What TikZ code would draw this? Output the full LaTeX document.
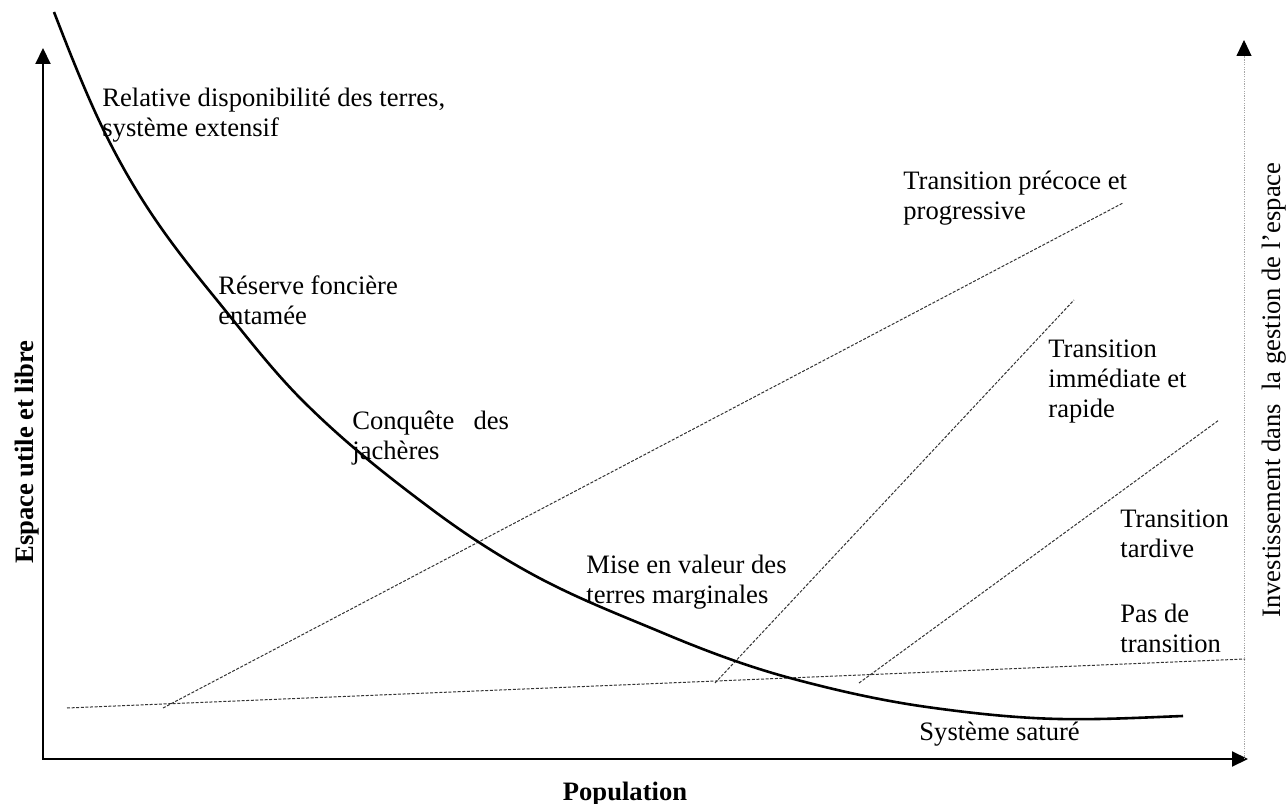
\documentclass[tikz,border=0pt]{standalone}
\usepackage{fontspec}
\setmainfont{Liberation Serif}
\usetikzlibrary{arrows.meta}
\tikzset{
  >={Triangle[length=8pt, width=7.5pt]},
  lbl/.style={anchor=base west, inner sep=0pt, align=left,
    font=\fontsize{13.3}{15}\selectfont},
  axlbl/.style={rotate=90, font=\fontsize{13.3}{15}\selectfont},
  trend/.style={line width=0.5pt, black!80, dash pattern=on 1.5pt off 0.8pt},
}
\begin{document}
\begin{tikzpicture}[x=0.5pt,y=0.5pt]
\useasboundingbox (0,0) rectangle (1288,803);
% axes
\coordinate (O) at (43,44);
\coordinate (Ytop) at (43,755);
\coordinate (Xend) at (1248,44);
\coordinate (Rbot) at (1244,44);
\coordinate (Rtop) at (1244,763);
\draw[line width=1pt, <->] (Ytop) -- (O) -- (Xend);
\draw[gray!70, line width=0.5pt, dash pattern=on 0.6pt off 0.6pt,
  -{Triangle[length=8pt, width=7.5pt, color=black]}] (Rbot) -- (Rtop);
% transition lines
\coordinate (N0) at (67,95);   \coordinate (N1) at (1245,144);
\coordinate (E0) at (163,95);  \coordinate (E1) at (1123,600);
\coordinate (I0) at (715,120); \coordinate (I1) at (1074,503);
\coordinate (T0) at (859,120); \coordinate (T1) at (1219,383);
\draw[trend] (N0) -- (N1);
\draw[trend] (E0) -- (E1);
\draw[trend] (I0) -- (I1);
\draw[trend] (T0) -- (T1);
% space curve
\draw[line width=1.3pt] (54,791)
  .. controls (71.7,745.1) and (89.3,701.3) .. (107,666)
  .. controls (149,582) and (191,535.5) .. (233,483)
  .. controls (256,454.3) and (279,426) .. (302,403)
  .. controls (344.7,360.3) and (387.3,327) .. (430,295)
  .. controls (463.3,270) and (496.7,248.3) .. (530,230)
  .. controls (574.3,205.6) and (618.7,188.6) .. (663,170)
  .. controls (705.3,152.2) and (747.7,136.4) .. (790,125)
  .. controls (835.7,112.7) and (881.3,102.4) .. (927,96)
  .. controls (971.3,89.8) and (1015.7,84.9) .. (1060,84)
  .. controls (1101,83.2) and (1142,85.4) .. (1183,87);
% labels (base = last line)
\node[lbl] (relative) at (102,666) {Relative disponibilité des terres,\\système extensif};
\node[lbl] (reserve) at (218,478) {Réserve foncière\\entamée};
\node[lbl] (conquete) at (352,343) {Conquête\hspace{0.72em}des\\jachères};
\node[lbl] (mise) at (586,200) {Mise en valeur des\\terres marginales};
\node[lbl] (precoce) at (903,583) {Transition précoce et\\progressive};
\node[lbl] (immediate) at (1048,385) {Transition\\immédiate et\\rapide};
\node[lbl] (tardive) at (1120,246) {Transition\\tardive};
\node[lbl] (pas) at (1120,151) {Pas de\\transition};
\node[lbl] (sature) at (919,63) {Système saturé};
\node[font=\fontsize{13.3}{15}\selectfont\bfseries, anchor=base, inner sep=0pt]
  (population) at (625,3) {Population};
\node[axlbl, font=\fontsize{13.3}{15}\selectfont\bfseries] (espace) at (27,351) {Espace utile et libre};
\node[axlbl] (invest) at (1274,413) {Investissement dans~~la gestion de l’espace};
\end{tikzpicture}
\end{document}
